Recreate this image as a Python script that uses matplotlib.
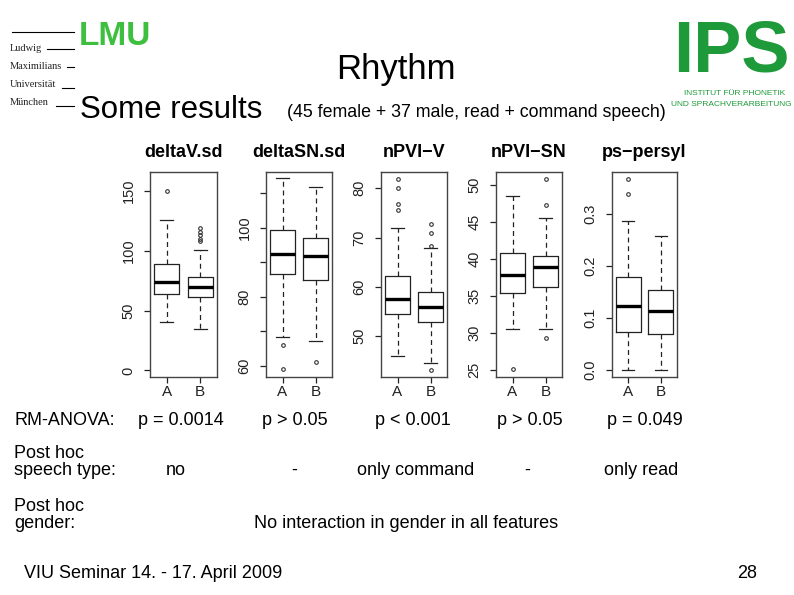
import matplotlib
matplotlib.use("Agg")
import matplotlib.pyplot as plt
from matplotlib.lines import Line2D

# === Data ===
panels = ["deltaV.sd", "deltaSN.sd", "nPVI\u2212V", "nPVI\u2212SN", "ps\u2212persyl"]
groups = ["A", "B"]

# group A (box statistics)
lo_A = [40.4, 68.3, 46.0, 30.6, 0.0]
q1_A = [64.0, 86.5, 54.5, 35.4, 0.073]
med_A = [73.8, 92.5, 57.5, 37.8, 0.123]
q3_A = [89.1, 99.2, 62.2, 40.8, 0.179]
hi_A = [125.8, 114.4, 72.0, 48.5, 0.287]
out_A = [[150.0], [66.1, 59.0], [75.6, 76.8, 80.1, 81.8], [25.1], [0.339, 0.368]]

# group B
lo_B = [34.8, 67.3, 44.6, 30.6, 0.0]
q1_B = [61.3, 85.0, 52.8, 36.3, 0.069]
med_B = [69.6, 91.8, 56.0, 38.9, 0.113]
q3_B = [78.5, 96.9, 59.0, 40.4, 0.154]
hi_B = [100.8, 111.8, 67.8, 45.6, 0.257]
out_B = [[108.5, 110.3, 113.1, 116.0, 118.9], [61.0], [43.2, 68.3, 70.9, 72.7],
         [29.3, 47.3, 50.8], []]

yticks = [[0, 50, 100, 150], [60, 70, 80, 90, 100, 110], [50, 60, 70, 80],
          [25, 30, 35, 40, 45, 50], [0.0, 0.1, 0.2, 0.3]]
yticklabels = [["0", "50", "100", "150"], ["60", "", "80", "", "100", ""],
               ["50", "60", "70", "80"], ["25", "30", "35", "40", "45", "50"],
               ["0.0", "0.1", "0.2", "0.3"]]

anova = ["p = 0.0014", "p > 0.05", "p < 0.001", "p > 0.05", "p = 0.049"]
posthoc_type = ["no", "-", "only command", "-", "only read"]
posthoc_gender = "No interaction in gender in all features"

# === Layout (pixels of a 794x595 slide) ===
W, H = 794, 595
ax_left = [150, 266, 381, 496, 612]
ax_right = [217, 332, 447, 562, 677]
ax_top, ax_bot = 172, 377
ylims = [(-5.5, 166.1), (56.8, 116.1), (41.7, 83.3), (24.05, 51.8), (-0.0135, 0.381)]
col_x = [181, 295, 413, 530, 645]
col_x2 = [176, 294, 416, 527, 641]

plt.rcParams["font.family"] = ["Liberation Sans", "DejaVu Sans"]

fig = plt.figure(figsize=(W / 100, H / 100), dpi=100)


def fx(x):
    return x / W


def fy(y):
    return 1 - y / H


def txt(x, y, s, **kw):
    kw.setdefault("ha", "left")
    kw.setdefault("va", "baseline")
    fig.text(fx(x), fy(y), s, **kw)


# === Boxplot panels ===
for i, name in enumerate(panels):
    ax = fig.add_axes([fx(ax_left[i]), fy(ax_bot), (ax_right[i] - ax_left[i]) / W,
                       (ax_bot - ax_top) / H])
    stats = [
        dict(whislo=lo_A[i], q1=q1_A[i], med=med_A[i], q3=q3_A[i], whishi=hi_A[i],
             fliers=out_A[i], label=groups[0]),
        dict(whislo=lo_B[i], q1=q1_B[i], med=med_B[i], q3=q3_B[i], whishi=hi_B[i],
             fliers=out_B[i], label=groups[1]),
    ]
    ax.bxp(stats, positions=[1, 2], widths=0.76, capwidths=0.38,
           boxprops=dict(color="#222222", linewidth=0.9),
           medianprops=dict(color="black", linewidth=2.4, solid_capstyle="butt"),
           whiskerprops=dict(color="#222222", linewidth=0.9, linestyle=(0, (4, 3))),
           capprops=dict(color="#222222", linewidth=0.9),
           flierprops=dict(marker="o", markersize=2.6, markerfacecolor="none",
                           markeredgecolor="#333333", markeredgewidth=0.8))
    ax.set_xlim(0.5, 2.5)
    ax.set_ylim(*ylims[i])
    ax.set_yticks(yticks[i])
    ax.set_yticklabels(yticklabels[i])
    ax.tick_params(axis="y", labelrotation=90, length=4.5, width=0.9, pad=6,
                   labelsize=10.5, colors="#222222")
    ax.tick_params(axis="x", length=4.5, width=0.9, pad=1.5, labelsize=11,
                   colors="#222222")
    for lab in ax.get_yticklabels():
        lab.set_va("center")
    for sp in ax.spines.values():
        sp.set_color("#444444")
        sp.set_linewidth(1.0)
    ax.set_title(name, fontsize=13, fontweight="bold", pad=11)

# === Slide titles ===
txt(396, 79, "Rhythm", fontsize=25, ha="center")
txt(80, 118, "Some results", fontsize=22.5)
txt(287, 117, "(45 female + 37 male, read + command speech)", fontsize=12.8)

# === Result rows ===
txt(14, 425, "RM-ANOVA:", fontsize=13)
for x, s in zip(col_x, anova):
    txt(x, 425, s, fontsize=13, ha="center")

txt(14, 458, "Post hoc", fontsize=13)
txt(14, 475, "speech type:", fontsize=13)
for x, s in zip(col_x2, posthoc_type):
    txt(x, 475, s, fontsize=13, ha="center")

txt(14, 511, "Post hoc", fontsize=13)
txt(14, 528, "gender:", fontsize=13)
txt(406, 528, posthoc_gender, fontsize=13, ha="center")

# === Footer ===
txt(24, 578, "VIU Seminar 14. - 17. April 2009", fontsize=13)
txt(757, 578, "28", fontsize=13, ha="right")

# === LMU logo ===
txt(79, 45, "LMU", fontsize=24, fontweight="bold", color="#3fbf3f")
for y, word in zip([51, 69, 87, 105], ["Ludwig", "Maximilians", "Universit\u00e4t", "M\u00fcnchen"]):
    txt(10, y, word, fontsize=7.5, family="Liberation Serif", color="#222222")
for (x0, x1, y) in [(12, 74, 32), (47, 74, 49), (67, 74, 67), (62, 74, 88), (56, 74, 106)]:
    fig.add_artist(Line2D([fx(x0), fx(x1)], [fy(y), fy(y)], color="black", linewidth=0.8))

# === IPS logo ===
txt(731, 72, "IPS", fontsize=52, fontweight="bold", color="#1e9a3a", ha="center")
txt(735, 95, "INSTITUT F\u00dcR PHONETIK", fontsize=6, color="#1e9a3a", ha="center")
txt(731, 106, "UND SPRACHVERARBEITUNG", fontsize=6, color="#1e9a3a", ha="center")

fig.savefig("out.png", dpi=100)
